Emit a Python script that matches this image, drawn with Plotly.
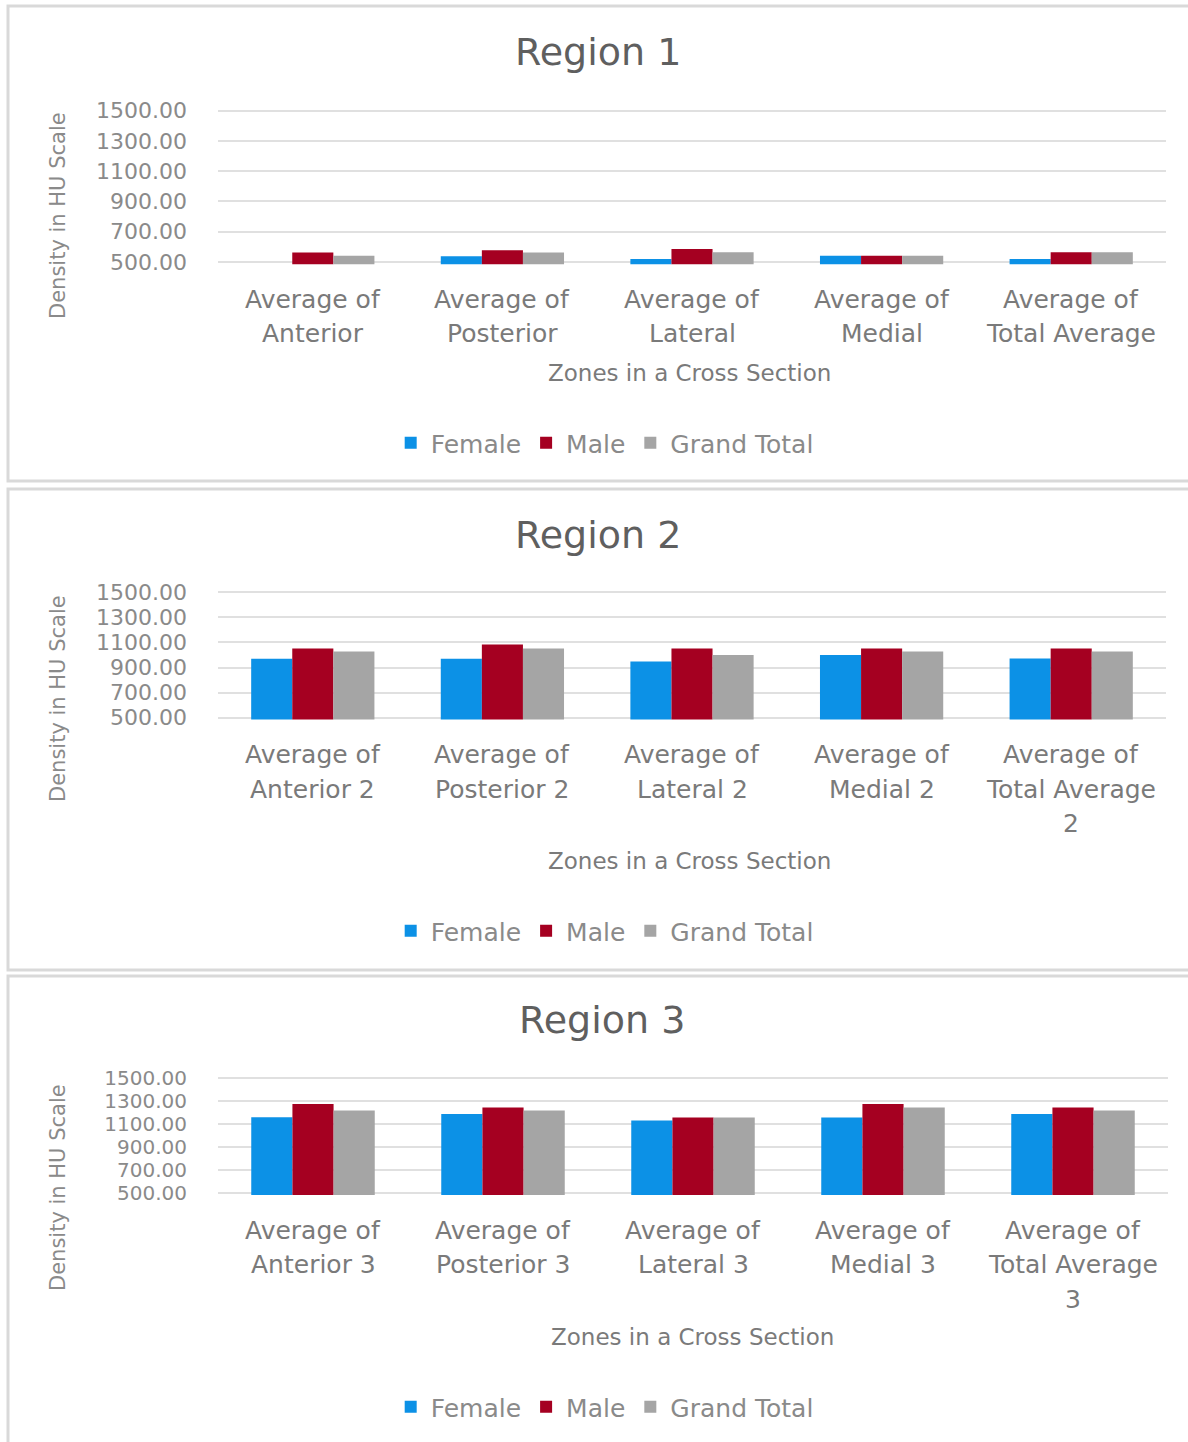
import plotly.graph_objects as go

# ---- data -------------------------------------------------------------
series_names = ["Female", "Male", "Grand Total"]
series_colors = ["#0c91e6", "#a50021", "#a5a5a5"]

region_titles = ["Region 1", "Region 2", "Region 3"]

zones_r1 = ["Average of<br>Anterior", "Average of<br>Posterior", "Average of<br>Lateral",
            "Average of<br>Medial", "Average of<br>Total Average"]
zones_r2 = ["Average of<br>Anterior 2", "Average of<br>Posterior 2", "Average of<br>Lateral 2",
            "Average of<br>Medial 2", "Average of<br>Total Average<br>2"]
zones_r3 = ["Average of<br>Anterior 3", "Average of<br>Posterior 3", "Average of<br>Lateral 3",
            "Average of<br>Medial 3", "Average of<br>Total Average<br>3"]

female_r1 = [480, 538, 520, 542, 520]
male_r1 = [562, 577, 585, 542, 565]
total_r1 = [542, 562, 565, 542, 565]

female_r2 = [970, 970, 948, 1000, 972]
male_r2 = [1052, 1084, 1052, 1052, 1052]
total_r2 = [1028, 1052, 1000, 1028, 1028]

female_r3 = [1161, 1190, 1133, 1159, 1190]
male_r3 = [1276, 1246, 1159, 1276, 1246]
total_r3 = [1220, 1220, 1159, 1246, 1220]

y_ticks = [500, 700, 900, 1100, 1300, 1500]
y_title = "Density in HU Scale"
x_title = "Zones in a Cross Section"

# ---- layout helpers ---------------------------------------------------
W, H = 1188, 1442
FONT = "DejaVu Sans"
Y_MIN, Y_MAX = 485, 1520   # padding so the 500 / 1500 gridlines are not clipped


def py(p):
    """pixel row -> paper y"""
    return 1 - p / H


def px(p):
    return p / W


regions = [
    dict(zones=zones_r1, vals=[female_r1, male_r1, total_r1],
         top=110.5, bottom=262, x1=1166, frame=(6, 481), title_y=52, ytitle_y=216,
         xtitle=(689, 373), legend_y=443, title_x=598, tick_size=22),
    dict(zones=zones_r2, vals=[female_r2, male_r2, total_r2],
         top=592.3, bottom=717.7, x1=1166, frame=(489, 970), title_y=535, ytitle_y=699,
         xtitle=(689, 861), legend_y=931, title_x=598, tick_size=22),
    dict(zones=zones_r3, vals=[female_r3, male_r3, total_r3],
         top=1078.3, bottom=1193.3, x1=1168, frame=(976, 1470), title_y=1020, ytitle_y=1188,
         xtitle=(692, 1337), legend_y=1407, title_x=602, tick_size=20),
]

fig = go.Figure()
annotations = []
shapes = []
layout = {}

for r, reg in enumerate(regions):
    sfx = "" if r == 0 else str(r + 1)
    xa, ya = "x" + sfx, "y" + sfx
    leg = "legend" + sfx
    for name, color, vals in zip(series_names, series_colors, reg["vals"]):
        fig.add_trace(go.Bar(
            x=list(range(len(reg["zones"]))), y=vals, name=name,
            marker=dict(color=color, line=dict(width=0)),
            xaxis=xa, yaxis=ya, legend=leg,
        ))

    # pixel extent of the padded value range
    ppu = (reg["bottom"] - reg["top"]) / 1000.0
    dom_top = reg["top"] - (Y_MAX - 1500) * ppu
    dom_bot = reg["bottom"] + (500 - Y_MIN) * ppu

    layout["xaxis" + sfx] = dict(
        domain=[px(218), px(reg["x1"])], anchor=ya, range=[-0.5, len(reg["zones"]) - 0.5],
        showticklabels=False, showgrid=False, zeroline=False, showline=False, ticks="",
        fixedrange=True,
    )
    layout["yaxis" + sfx] = dict(
        domain=[py(dom_bot), py(dom_top)], anchor=xa, range=[Y_MIN, Y_MAX],
        tickvals=y_ticks, tickformat=".2f", showgrid=True, gridcolor="#e0e0e0", gridwidth=2,
        zeroline=False, showline=False, ticks="", ticklabelstandoff=30,
        tickfont=dict(family=FONT, size=reg["tick_size"], color="#8a8a8a"),
    )
    layout[leg] = dict(
        orientation="h", x=0.509, xanchor="center", y=py(reg["legend_y"]), yanchor="middle",
        font=dict(family=FONT, size=25, color="#8a8a8a"), bgcolor="rgba(0,0,0,0)",
        itemsizing="constant",
    )

    # zone labels, one text line per row under each category
    for i, z in enumerate(reg["zones"]):
        for k, line in enumerate(z.split("<br>")):
            annotations.append(dict(
                x=i, xref=xa, y=py(reg["bottom"] + 37 + 34.5 * k), yref="paper",
                text=line, showarrow=False, xanchor="center", yanchor="middle",
                font=dict(family=FONT, size=25, color="#7a7a7a"),
            ))

    annotations.append(dict(
        x=px(reg["title_x"]), y=py(reg["title_y"]), xref="paper", yref="paper",
        text=region_titles[r], showarrow=False, xanchor="center", yanchor="middle",
        font=dict(family=FONT, size=38, color="#5f5f5f"),
    ))
    annotations.append(dict(
        x=px(58), y=py(reg["ytitle_y"]), xref="paper", yref="paper", textangle=-90,
        text=y_title, showarrow=False, xanchor="center", yanchor="middle",
        font=dict(family=FONT, size=21, color="#8a8a8a"),
    ))
    annotations.append(dict(
        x=px(reg["xtitle"][0]), y=py(reg["xtitle"][1]), xref="paper", yref="paper",
        text=x_title, showarrow=False, xanchor="center", yanchor="middle",
        font=dict(family=FONT, size=23, color="#7a7a7a"),
    ))
    shapes.append(dict(
        type="rect", xref="paper", yref="paper",
        x0=px(8), x1=1.02, y0=py(reg["frame"][1]), y1=py(reg["frame"][0]),
        line=dict(color="#d9d9d9", width=3), fillcolor="rgba(0,0,0,0)", layer="below",
    ))

fig.update_layout(
    width=W, height=H, autosize=False,
    margin=dict(l=0, r=0, t=0, b=0, autoexpand=False),
    paper_bgcolor="white", plot_bgcolor="white",
    barmode="group", bargap=0.35, bargroupgap=0,
    annotations=annotations, shapes=shapes,
    **layout,
)

fig.write_html("out.html")
